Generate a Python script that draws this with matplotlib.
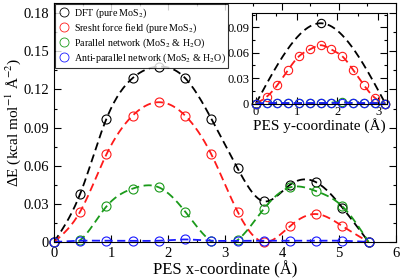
#!/usr/bin/env python3
"""Energy profile along the PES x- and y-coordinates (main panel + inset)."""

import numpy as np
import matplotlib

matplotlib.use("Agg")
import matplotlib.pyplot as plt
from matplotlib.ticker import MultipleLocator

plt.rcParams["font.family"] = ["Liberation Serif", "DejaVu Serif"]
plt.rcParams["mathtext.fontset"] = "stix"

# --- main panel: PES x-coordinate (Å) ---
x_main = [0.0, 0.46, 0.92, 1.38, 1.84, 2.30, 2.76, 3.22, 3.68, 4.14, 4.60, 5.06, 5.52]
dft_x = [0.0, 0.038, 0.097, 0.129, 0.138, 0.129, 0.097, 0.058, 0.032, 0.045, 0.047, 0.027, 0.0]
sresht_x = [0.0, 0.024, 0.069, 0.0995, 0.110, 0.0995, 0.069, 0.024, 0.0, 0.0125, 0.022, 0.0125, 0.0]
parallel_x = [0.0, 0.0015, 0.028, 0.042, 0.043, 0.024, 0.0005, 0.0015, 0.026, 0.043, 0.040, 0.028, 0.0]
antipar_x = [0.0, 0.001, 0.001, 0.001, 0.001, 0.002, 0.001, 0.001, 0.001, 0.001, 0.001, 0.001, 0.0]

# --- inset: PES y-coordinate (Å) ---
x_dft_in = [0.0, 1.59, 3.18]
dft_y = [0.0, 0.095, 0.0]
x_in = [0.0, 0.265, 0.53, 0.795, 1.06, 1.325, 1.59, 1.855, 2.12, 2.385, 2.65, 2.915, 3.18]
sresht_y = [0.0, 0.008, 0.022, 0.040, 0.056, 0.064, 0.069, 0.064, 0.056, 0.040, 0.022, 0.007, 0.0]
parallel_y = [0.0, 0.0005, 0.0005, 0.0005, 0.0005, 0.0005, 0.0005, 0.001, 0.002, 0.0005, 0.0005, 0.0005, 0.0]
antipar_y = [0.0, 0.0005, 0.0005, 0.0005, 0.0005, 0.0005, 0.0005, 0.0005, 0.001, 0.0005, 0.0005, 0.0005, 0.0]

labels = [
    "DFT (pure MoS$_2$)",
    "Sresht force field (pure MoS$_2$)",
    "Parallel network (MoS$_2$ & H$_2$O)",
    "Anti-parallel network (MoS$_2$ & H$_2$O)",
]
colors = ["#000000", "#ff1a1a", "#1a9a1a", "#1a1aff"]


def natural_spline(x, y, n=300):
    # natural cubic spline through the points, only used to draw the smooth line
    x = np.asarray(x, float)
    y = np.asarray(y, float)
    h = np.diff(x)
    m = len(x)
    A = np.zeros((m, m))
    b = np.zeros(m)
    A[0, 0] = A[-1, -1] = 1.0
    for i in range(1, m - 1):
        A[i, i - 1] = h[i - 1]
        A[i, i] = 2 * (h[i - 1] + h[i])
        A[i, i + 1] = h[i]
        b[i] = 3 * ((y[i + 1] - y[i]) / h[i] - (y[i] - y[i - 1]) / h[i - 1])
    c = np.linalg.solve(A, b)
    xs = np.linspace(x[0], x[-1], n)
    idx = np.clip(np.searchsorted(x, xs) - 1, 0, m - 2)
    dx = xs - x[idx]
    bb = (y[idx + 1] - y[idx]) / h[idx] - h[idx] * (2 * c[idx] + c[idx + 1]) / 3
    dd = (c[idx + 1] - c[idx]) / (3 * h[idx])
    return xs, y[idx] + bb * dx + c[idx] * dx ** 2 + dd * dx ** 3


def draw(ax, x, y, color, label=None, ms=6.5, lw=1.3):
    xs, ys = natural_spline(x, y)
    ax.plot(xs, ys, color=color, lw=lw, dashes=(4.5, 2.5))
    ax.plot(x, y, ls="none", marker="o", mfc="none", mec=color, ms=ms, mew=0.8,
            clip_on=False, label=label)


def style(ax, size):
    ax.tick_params(which="both", direction="in", top=True, right=True, labelsize=size)
    ax.tick_params(which="major", length=5, width=0.8)
    ax.tick_params(which="minor", length=2.5, width=0.8)
    for sp in ax.spines.values():
        sp.set_linewidth(0.8)


fig = plt.figure(figsize=(4.01, 2.79), dpi=100)
ax = fig.add_axes([0.1347, 0.1326, 0.8528, 0.8564])

for ys, c, lab in zip([dft_x, sresht_x, parallel_x, antipar_x], colors, labels):
    draw(ax, x_main, ys, c, lab)

ax.set_xlim(0, 6)
ax.set_ylim(0, 0.188)
ax.xaxis.set_major_locator(MultipleLocator(1))
ax.xaxis.set_minor_locator(MultipleLocator(0.5))
ax.set_yticks([0, 0.03, 0.06, 0.09, 0.12, 0.15, 0.18])
ax.set_yticklabels(["0", "0.03", "0.06", "0.09", "0.12", "0.15", "0.18"])
ax.yaxis.set_minor_locator(MultipleLocator(0.015))
style(ax, 10.5)
ax.set_xlabel("PES x-coordinate (Å)", fontsize=12, labelpad=1)
ax.set_ylabel("ΔE (kcal mol$^{-1}$ Å$^{-2}$)", fontsize=11, labelpad=0)

leg = ax.legend(loc="upper left", fontsize=7.2, frameon=True, fancybox=False,
                borderaxespad=0.1, handletextpad=0.4, handlelength=1.2,
                labelspacing=0.15, borderpad=0.25)
leg.get_frame().set_edgecolor("black")
leg.get_frame().set_linewidth(0.8)
for h in leg.legend_handles:
    h.set_markeredgewidth(0.6)

# inset
axi = fig.add_axes([0.628, 0.629, 0.337, 0.324])
draw(axi, x_dft_in, dft_y, colors[0], ms=6, lw=1.3)
draw(axi, x_in, sresht_y, colors[1], ms=6, lw=1.3)
draw(axi, x_in, parallel_y, colors[2], ms=6, lw=1.3)
draw(axi, x_in, antipar_y, colors[3], ms=6, lw=1.3)
axi.set_xlim(-0.1, 3.22)
axi.set_ylim(0, 0.107)
axi.xaxis.set_major_locator(MultipleLocator(1))
axi.xaxis.set_minor_locator(MultipleLocator(0.5))
axi.set_yticks([0, 0.03, 0.06, 0.09])
axi.set_yticklabels(["0", "0.03", "0.06", "0.09"])
axi.yaxis.set_minor_locator(MultipleLocator(0.015))
style(axi, 9)
axi.tick_params(pad=2)
axi.set_xlabel("PES y-coordinate (Å)", fontsize=11, labelpad=0)

fig.savefig("out.png", dpi=100)
